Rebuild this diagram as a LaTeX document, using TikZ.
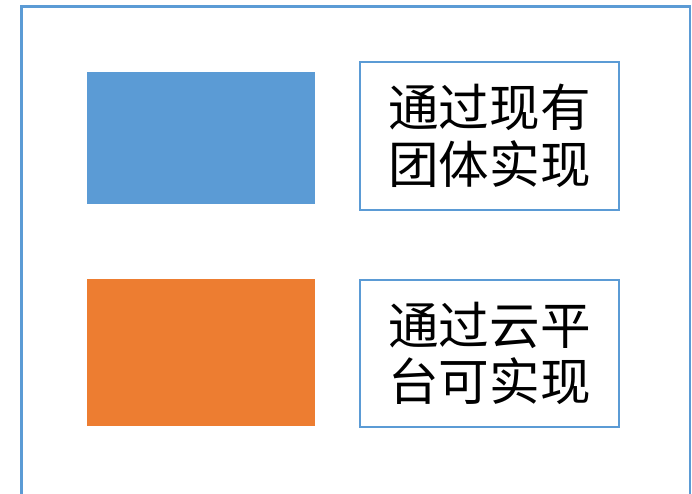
\documentclass[tikz,border=0pt]{standalone}
\usepackage{fontspec}
\newfontfamily\cjk{Noto Sans CJK SC}
\usepackage{xcolor}
\usepackage{tikz}
\usetikzlibrary{positioning}

\definecolor{ppblue}{HTML}{5B9BD5}
\definecolor{pporange}{HTML}{ED7D31}

\begin{document}
\begin{tikzpicture}
  [
    block/.style={minimum width=5.7cm, inner sep=0pt},
    label/.style={draw=ppblue, line width=1.1pt, minimum width=6.475cm,
      minimum height=3.7cm, inner sep=0pt, align=center,
      font=\cjk\fontsize{36}{40.4}\selectfont}
  ]
  \useasboundingbox (0,0) rectangle (17.3,-12.325);
  \clip (0,0) rectangle (17.3,-12.325);

  % outer frame, cut off at the bottom
  \draw [ppblue, line width=2pt] (0.5375,-12.6) -- (0.5375,-0.1625)
    -- (17.25,-0.1625) -- (17.25,-12.6);

  \node (blue)   at (5.025,-3.45)   [block, fill=ppblue, minimum height=3.3cm] {};
  \node (orange) at (5.025,-8.8125) [block, fill=pporange, minimum height=3.675cm] {};

  \node (t1) at (12.2375,-3.4)    [label] {通过现有\\团体实现};
  \node (t2) at (12.2375,-8.8375) [label, minimum height=3.675cm] {通过云平\\台可实现};
\end{tikzpicture}
\end{document}
